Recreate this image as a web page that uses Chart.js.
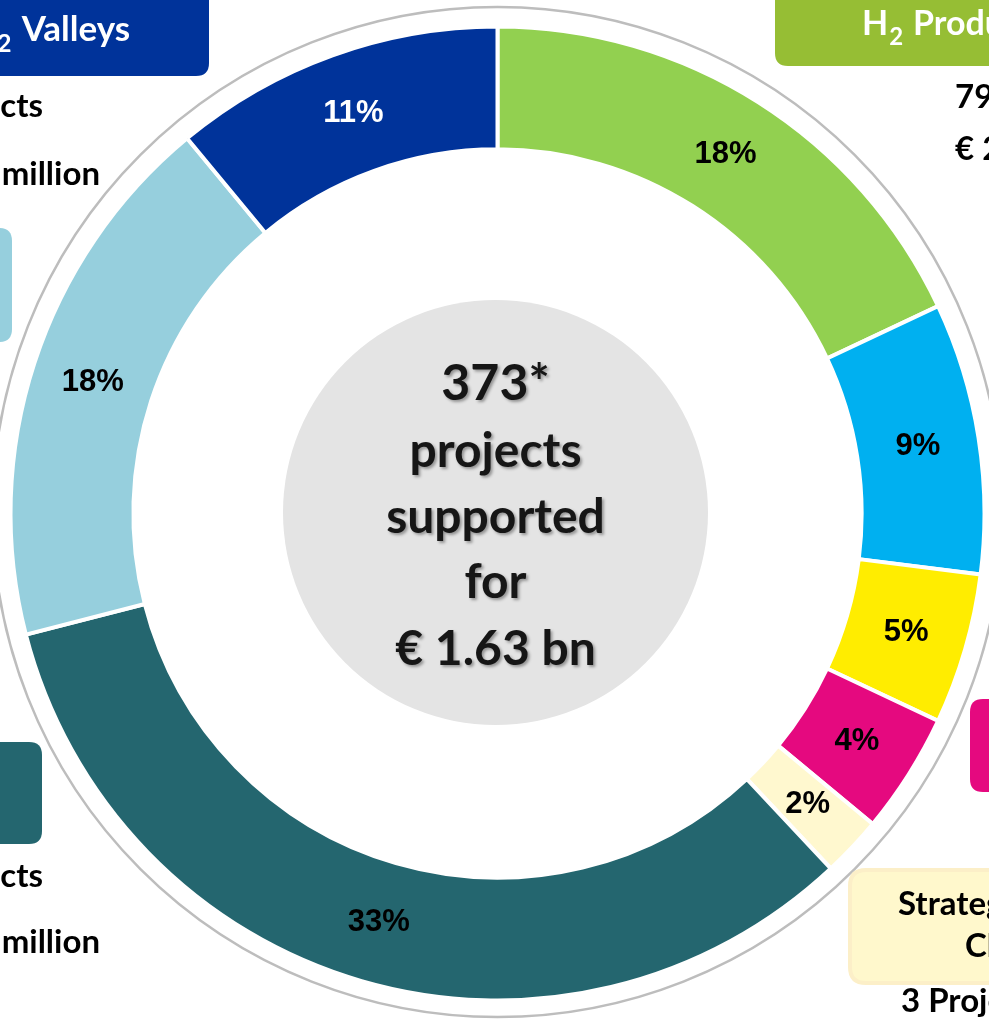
<!DOCTYPE html>
<html>
<head>
<meta charset="utf-8">
<script src="https://cdn.jsdelivr.net/npm/chart.js@4.4.1/dist/chart.umd.min.js"></script>
<style>
  html, body { margin: 0; padding: 0; background: #ffffff; }
  #wrap { width: 989px; height: 1022px; position: relative; overflow: hidden; }
</style>
</head>
<body>
<div id="wrap"><canvas id="c" width="989" height="1022"></canvas></div>
<script>
// Share of funding per programme area (percent), clockwise from 12 o'clock
const categories = [
  'H2 Production',
  'H2 Storage & Distribution',
  'Transport',
  'Heat & Power',
  'Strategic Research Challenges',
  'Cross-cutting',
  'Supply chain',
  'H2 Valleys'
];
const shares = [18, 9, 5, 4, 2, 33, 18, 11];
const sliceColors = ['#92D050', '#00B0F0', '#FFED00', '#E5097F', '#FFF8CF', '#24666F', '#96CFDD', '#00339A'];
const labelColors = ['#000', '#000', '#000', '#000', '#000', '#000', '#000', '#ffffff'];

// Centre summary
const centreLines = ['373*', 'projects', 'supported', 'for', '€ 1.63 bn'];

const CAL = 'Lato, "Open Sans", sans-serif';
const ARIAL = '"Liberation Sans", Arial, sans-serif';

function roundRect(ctx, x, y, w, h, r) {
  ctx.beginPath();
  ctx.moveTo(x + r, y);
  ctx.lineTo(x + w - r, y);
  ctx.quadraticCurveTo(x + w, y, x + w, y + r);
  ctx.lineTo(x + w, y + h - r);
  ctx.quadraticCurveTo(x + w, y + h, x + w - r, y + h);
  ctx.lineTo(x + r, y + h);
  ctx.quadraticCurveTo(x, y + h, x, y + h - r);
  ctx.lineTo(x, y + r);
  ctx.quadraticCurveTo(x, y, x + r, y);
  ctx.closePath();
}

// "H2" with subscript, then the rest of the title
function h2Title(ctx, x, baseline, rest, size, color) {
  ctx.fillStyle = color;
  ctx.textBaseline = 'alphabetic';
  ctx.textAlign = 'left';
  ctx.font = '700 ' + size + 'px ' + CAL;
  ctx.fillText('H', x, baseline);
  const hw = ctx.measureText('H').width;
  ctx.font = '700 ' + Math.round(size * 0.72) + 'px ' + CAL;
  ctx.fillText('2', x + hw + 1, baseline + size * 0.3);
  const sw = ctx.measureText('2').width;
  ctx.font = '700 ' + size + 'px ' + CAL;
  ctx.fillText(rest, x + hw + sw + size * 0.32, baseline);
}

const backdrop = {
  id: 'backdrop',
  beforeDatasetsDraw(chart) {
    const ctx = chart.ctx;
    const arc = chart.getDatasetMeta(0).data[0];
    const cx = arc.x, cy = arc.y;
    ctx.save();

    // thin grey ring around the doughnut
    ctx.beginPath();
    ctx.arc(cx, cy - 1.5, 505, 0, Math.PI * 2);
    ctx.strokeStyle = '#BDBDBD';
    ctx.lineWidth = 2.5;
    ctx.stroke();

    // category header boxes
    ctx.fillStyle = '#00339A';
    roundRect(ctx, -300, -40, 509, 116, 13); ctx.fill();
    ctx.fillStyle = '#96BE34';
    roundRect(ctx, 775, -40, 400, 106, 13); ctx.fill();
    ctx.fillStyle = '#96CFDD';
    roundRect(ctx, -300, 228, 312, 114, 13); ctx.fill();
    ctx.fillStyle = '#24666F';
    roundRect(ctx, -300, 742, 342, 102, 13); ctx.fill();
    ctx.fillStyle = '#E5097F';
    roundRect(ctx, 970, 699, 300, 93, 13); ctx.fill();
    ctx.fillStyle = '#FFF8CC';
    ctx.strokeStyle = '#FCEFC8';
    ctx.lineWidth = 4;
    roundRect(ctx, 850, 870, 400, 113, 16); ctx.fill(); ctx.stroke();

    // header titles
    h2Title(ctx, -31, 41, 'Valleys', 35, '#ffffff');
    h2Title(ctx, 862, 35, 'Production', 34, '#ffffff');

    // figures under the headers
    ctx.fillStyle = '#000';
    ctx.font = '700 33px ' + CAL;
    ctx.textAlign = 'right';
    ctx.fillText('Projects', 43, 117);
    ctx.fillText('million', 100, 185);
    ctx.fillText('Projects', 43, 887);
    ctx.fillText('million', 100, 953);
    ctx.textAlign = 'left';
    ctx.fillText('79', 955, 108);
    ctx.fillText('€ 2', 955, 160);
    ctx.fillText('Strategic Research', 898, 915);
    ctx.fillText('Challenges', 965, 957);
    ctx.fillText('3 Projects', 901, 1012);

    // centre disc
    ctx.beginPath();
    ctx.arc(cx - 2, cy - 1, 212.5, 0, Math.PI * 2);
    ctx.fillStyle = '#E4E4E4';
    ctx.fill();
    ctx.restore();
  },
  afterDatasetsDraw(chart) {
    const ctx = chart.ctx;
    const meta = chart.getDatasetMeta(0);
    const cx = meta.data[0].x;
    ctx.save();
    ctx.textAlign = 'center';
    ctx.textBaseline = 'middle';
    ctx.font = '700 31px ' + ARIAL;
    meta.data.forEach((el, i) => {
      const p = el.tooltipPosition();
      ctx.fillStyle = labelColors[i];
      ctx.fillText(shares[i] + '%', p.x, p.y);
    });

    // centre text with a soft shadow
    ctx.textBaseline = 'alphabetic';
    ctx.shadowColor = 'rgba(0,0,0,0.35)';
    ctx.shadowOffsetX = 2;
    ctx.shadowOffsetY = 2;
    ctx.shadowBlur = 3;
    ctx.fillStyle = '#161616';
    const baselines = [400, 467, 533, 598, 665];
    const sizes = [50, 48, 48, 48, 48];
    centreLines.forEach((t, i) => {
      ctx.font = '700 ' + sizes[i] + 'px ' + CAL;
      ctx.fillText(t, cx - 2, baselines[i]);
    });
    ctx.restore();
  }
};

new Chart(document.getElementById('c'), {
  type: 'doughnut',
  data: {
    labels: categories,
    datasets: [{
      data: shares,
      backgroundColor: sliceColors,
      borderColor: '#ffffff',
      borderWidth: 4,
      borderJoinStyle: 'miter'
    }]
  },
  options: {
    responsive: false,
    animation: false,
    radius: 487,
    cutout: 366,
    layout: { padding: { left: 6, top: 5, right: 0, bottom: 0 } },
    plugins: {
      legend: { display: false },
      tooltip: { enabled: false }
    }
  },
  plugins: [backdrop]
});
</script>
</body>
</html>
